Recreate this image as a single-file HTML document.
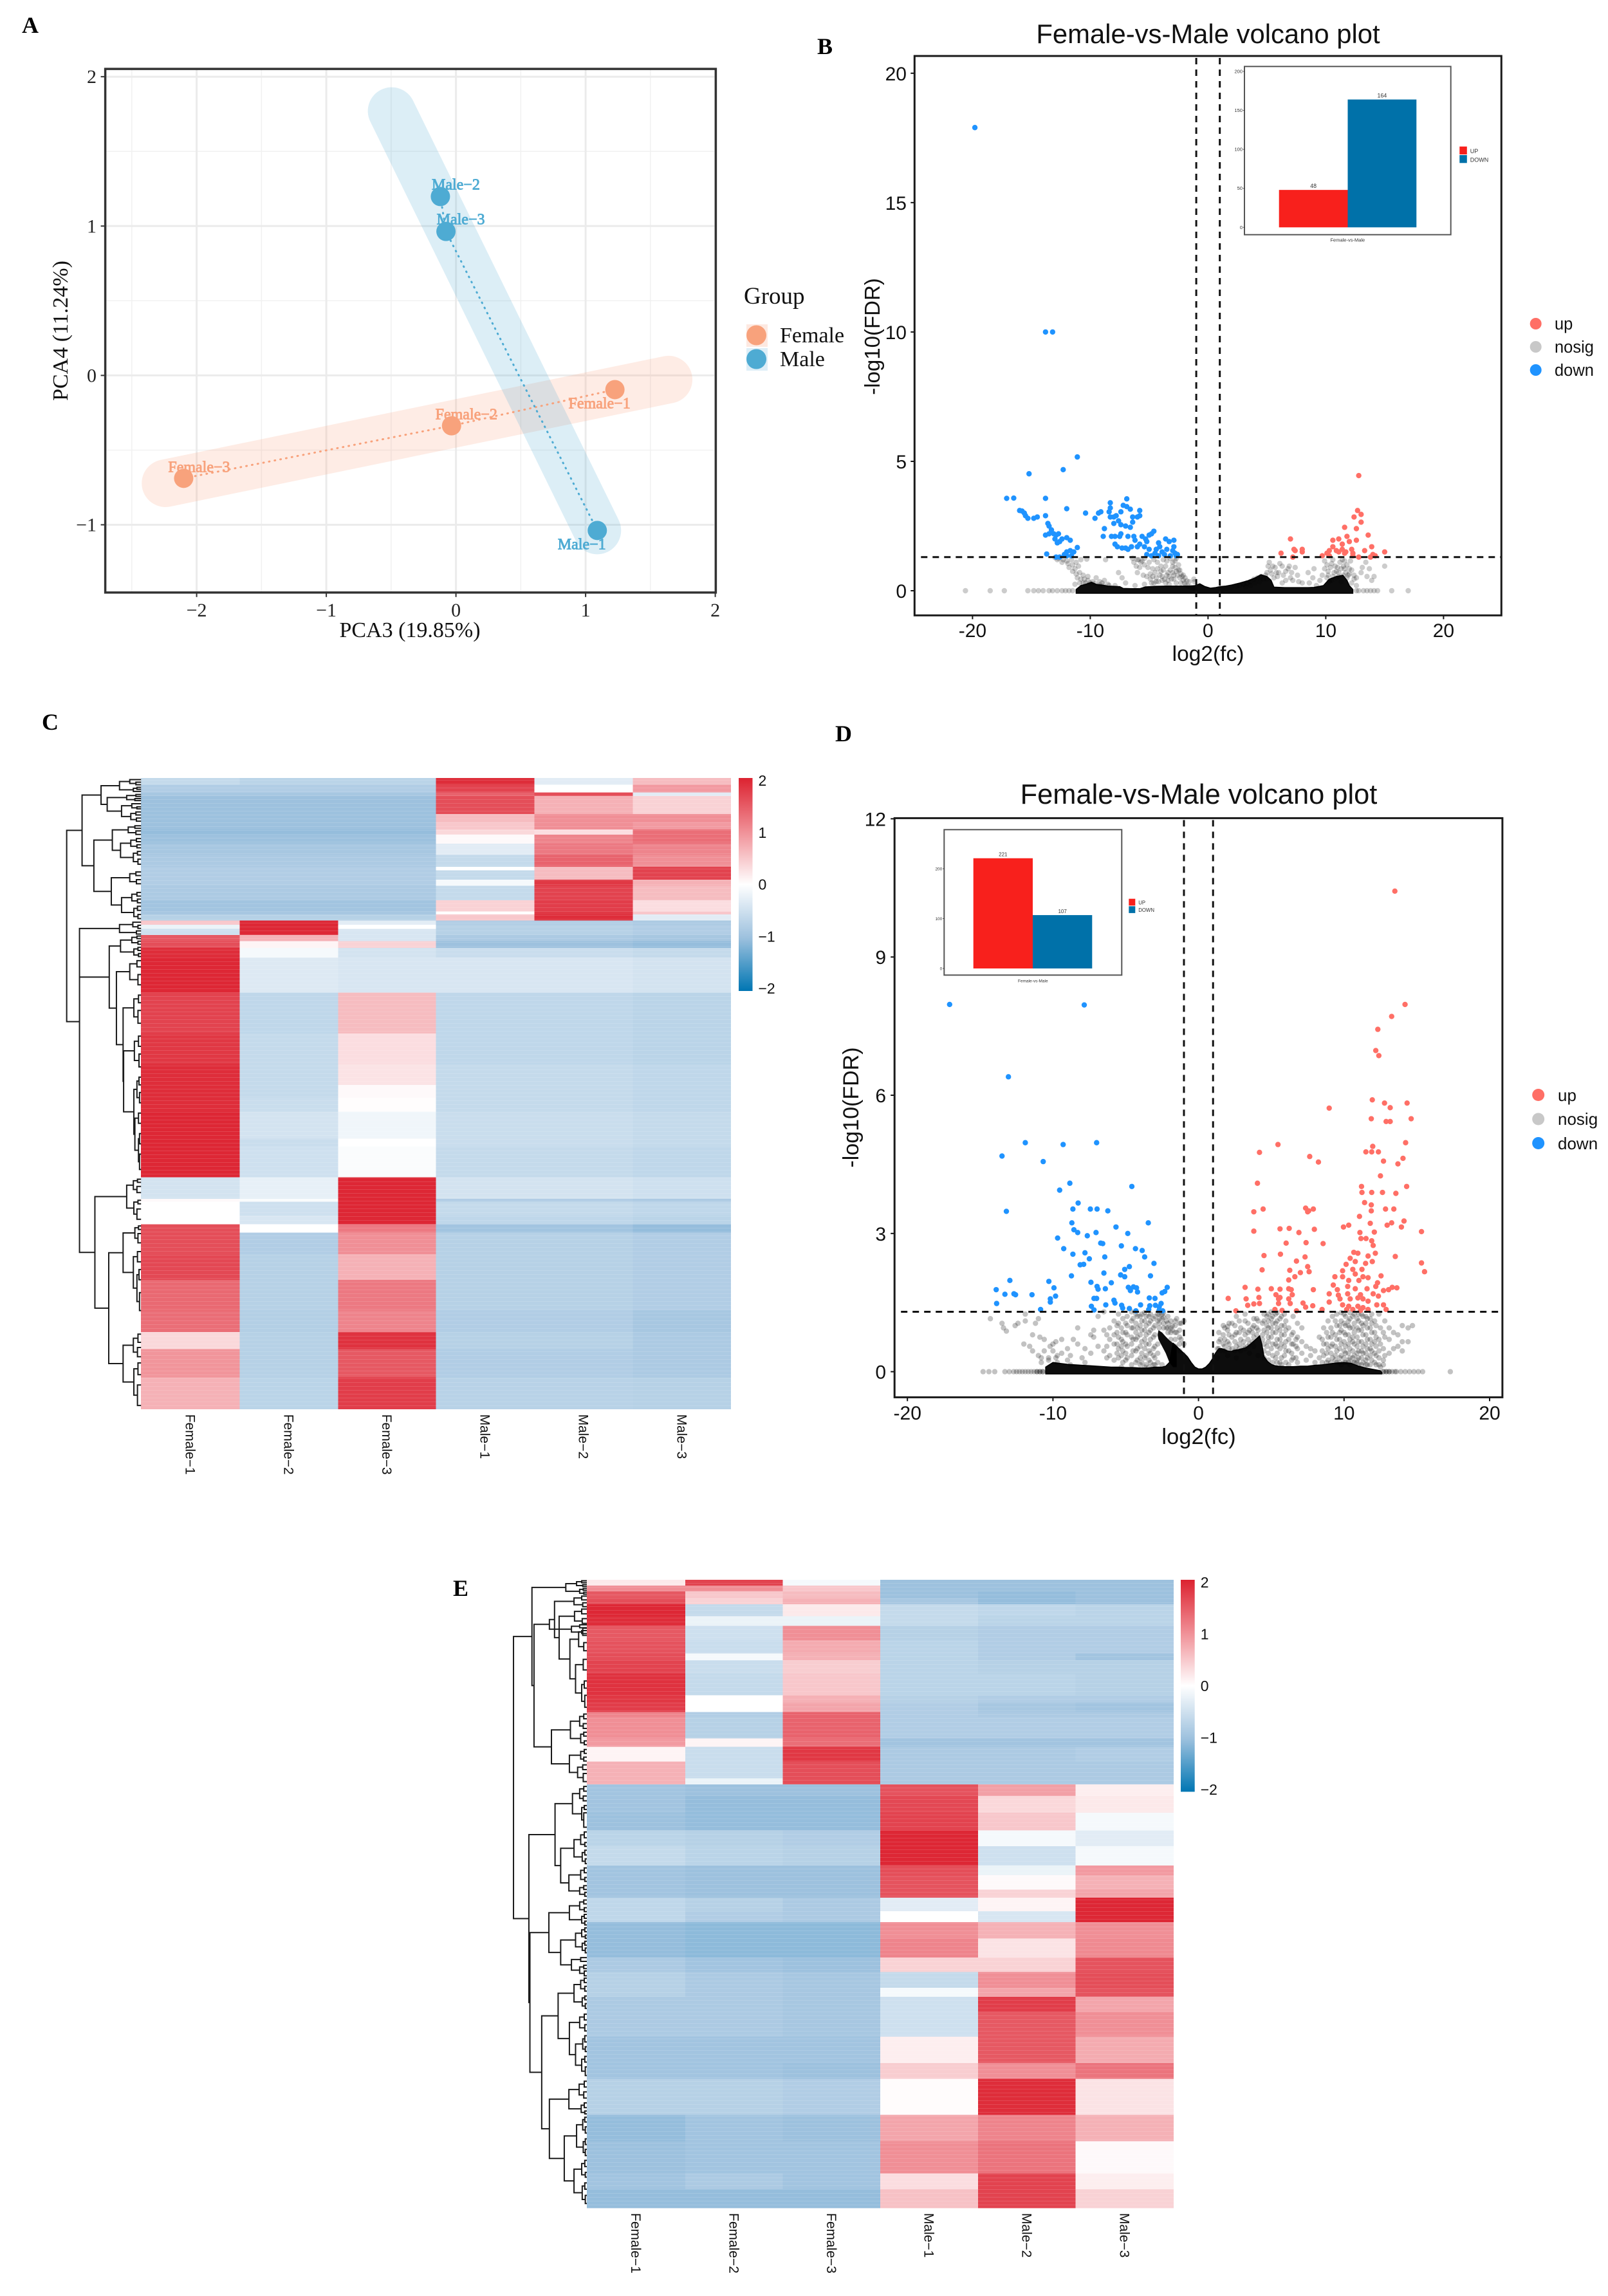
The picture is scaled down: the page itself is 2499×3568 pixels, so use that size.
<!DOCTYPE html>
<html lang="en">
<head>
<meta charset="utf-8">
<title>Female vs Male: PCA, volcano plots and heatmaps</title>
<style>
html,body{margin:0;padding:0;background:#fff;}
svg{display:block;}
.serif{font-family:"Liberation Serif",serif;}
.sans{font-family:"Liberation Sans",sans-serif;}
</style>
</head>
<body>
<svg id="figure" xmlns="http://www.w3.org/2000/svg" width="2499" height="3568" viewBox="0 0 2499 3568">
  <defs>
    <pattern id="stripes" width="10" height="6" patternUnits="userSpaceOnUse">
      <rect x="0" y="0" width="10" height="1" fill="#ffffff" fill-opacity="0.13"></rect>
    </pattern>
    <linearGradient id="cbar" x1="0" y1="0" x2="0" y2="1">
      <stop offset="0" stop-color="#dc2230"></stop>
      <stop offset="0.25" stop-color="#f08f96"></stop>
      <stop offset="0.5" stop-color="#ffffff"></stop>
      <stop offset="0.75" stop-color="#9dc1de"></stop>
      <stop offset="1" stop-color="#0076b3"></stop>
    </linearGradient>
  </defs>
  <rect width="2499" height="3568" fill="#ffffff"></rect>

  <g class="serif" font-weight="bold" font-size="36" fill="#000">
    <text x="34" y="51">A</text>
    <text x="1270" y="84">B</text>
    <text x="65" y="1134">C</text>
    <text x="1298" y="1152">D</text>
    <text x="704" y="2480">E</text>
  </g>

  <g id="panelA">
    <text class="serif" x="637" y="990" font-size="34" text-anchor="middle" fill="#111">PCA3 (19.85%)</text>
    <text class="serif" transform="translate(105,514) rotate(-90)" font-size="34" text-anchor="middle" fill="#111">PCA4 (11.24%)</text>
    <text class="serif" x="1156" y="472" font-size="37" fill="#111">Group</text>
    <rect x="1160" y="504" width="33" height="35" fill="#fde9e1"></rect>
    <circle cx="1175.500" cy="521" r="15.500" fill="#f8a27c"></circle>
    <text class="serif" x="1212" y="532" font-size="34" fill="#111">Female</text>
    <rect x="1160" y="541" width="33" height="35" fill="#ddeef7"></rect>
    <circle cx="1175.500" cy="558" r="15.500" fill="#4eabd3"></circle>
    <text class="serif" x="1212" y="569" font-size="34" fill="#111">Male</text>
  </g>

  <g id="panelB">
    <text class="sans" x="1877.500" y="67" font-size="41.800" text-anchor="middle" fill="#111">Female-vs-Male volcano plot</text>
    <text class="sans" x="1877.500" y="1027" font-size="33.500" text-anchor="middle" fill="#111">log2(fc)</text>
    <text class="sans" transform="translate(1367,523) rotate(-90)" font-size="33" text-anchor="middle" fill="#111">-log10(FDR)</text>
    <circle cx="2386.700" cy="503" r="9" fill="#ff6f66"></circle>
    <text class="sans" x="2416" y="512" font-size="25.500" fill="#111">up</text>
    <circle cx="2386.700" cy="539" r="9" fill="#c8c8c8"></circle>
    <text class="sans" x="2416" y="548" font-size="25.500" fill="#111">nosig</text>
    <circle cx="2386.700" cy="575" r="9" fill="#1f93ff"></circle>
    <text class="sans" x="2416" y="584" font-size="25.500" fill="#111">down</text>
  </g>

  <g id="panelD">
    <text class="sans" x="1863" y="1249" font-size="43.400" text-anchor="middle" fill="#111">Female-vs-Male volcano plot</text>
    <text class="sans" x="1863" y="2244" font-size="34.600" text-anchor="middle" fill="#111">log2(fc)</text>
    <text class="sans" transform="translate(1334,1721) rotate(-90)" font-size="34" text-anchor="middle" fill="#111">-log10(FDR)</text>
    <circle cx="2390.700" cy="1701.500" r="9.500" fill="#ff6f66"></circle>
    <text class="sans" x="2421" y="1711" font-size="26" fill="#111">up</text>
    <circle cx="2390.700" cy="1739" r="9.500" fill="#c8c8c8"></circle>
    <text class="sans" x="2421" y="1748" font-size="26" fill="#111">nosig</text>
    <circle cx="2390.700" cy="1776.500" r="9.500" fill="#1f93ff"></circle>
    <text class="sans" x="2421" y="1786" font-size="26" fill="#111">down</text>
  </g>

  <g id="panelC"></g>
  <g id="panelE"></g>
</svg>

<script>
/* ---------- PCA data ---------- */
const pcaXTicks = [-2, -1, 0, 1, 2];
const pcaYTicks = [-1, 0, 1, 2];
const pcaXMinor = [-2.5, -1.5, -0.5, 0.5, 1.5];
const pcaYMinor = [-0.5, 0.5, 1.5];
const pcaFemaleNames = ['Female\u22121', 'Female\u22122', 'Female\u22123'];
const pcaFemaleX = [1.226, -0.034, -2.10];
const pcaFemaleY = [-0.095, -0.337, -0.689];
const pcaMaleNames = ['Male\u22121', 'Male\u22122', 'Male\u22123'];
const pcaMaleX = [1.09, -0.12, -0.077];
const pcaMaleY = [-1.038, 1.198, 0.964];
const pcaFemaleRibbonX = [-2.24, 1.64];
const pcaFemaleRibbonY = [-0.722, -0.028];
const pcaMaleRibbonX = [-0.496, 1.09];
const pcaMaleRibbonY = [1.77, -1.038];

/* ---------- Volcano B data ---------- */
const bXTicks = [-20, -10, 0, 10, 20];
const bYTicks = [0, 5, 10, 15, 20];
const bDown = [[-19.8,17.9],[-13.8,10],[-13.2,10],[-11.1,5.17],[-12.3,4.68],[-15.2,4.52],[-17.1,3.57],[-16.5,3.58],[-13.8,3.57],[-12,3.17],[-16,3.1],[-15.8,3.08],[-15.6,3],[-15.5,2.9],[-15.3,2.8],[-14.8,2.8],[-14.5,2.85],[-13.8,2.9],[-13.6,2.6],[-13.5,2.5],[-13.3,2.35],[-13.8,2.15],[-13.5,2.2],[-13.1,2.2],[-12.9,2.15],[-12.7,2.2],[-12.4,2],[-13,2],[-12.8,1.85],[-12.6,1.9],[-12,2.05],[-11.7,1.95],[-13.7,1.42],[-12.9,1.3],[-12.6,1.3],[-12.2,1.4],[-12,1.5],[-11.7,1.55],[-11.4,1.5],[-11.1,1.67],[-12,1.35],[-11.6,1.35],[-10.4,3],[-9.6,2.8],[-9.3,3],[-9.1,3.05],[-8.3,3.4],[-8.3,3.2],[-8.4,3.05],[-8.3,2.85],[-8,2.85],[-7.8,2.9],[-7.4,3.05],[-7.2,3.3],[-6.9,3.25],[-6.9,3.55],[-6.6,3.15],[-6.4,2.85],[-6,2.85],[-5.8,2.9],[-5.8,3.1],[-8,2.6],[-7.6,2.7],[-7.4,2.55],[-7,2.5],[-6.6,2.45],[-6.4,2.65],[-8.8,2.4],[-8.9,2.1],[-8.2,2.1],[-7.9,2.1],[-7.5,2.1],[-7.4,2.2],[-6.8,2.1],[-6.3,2.1],[-6.2,1.95],[-5.6,2.1],[-5.3,2],[-5.2,1.9],[-5,2.15],[-4.8,2.2],[-4.6,2.3],[-7.9,1.8],[-7.7,1.7],[-7.3,1.65],[-7,1.65],[-6.8,1.6],[-6.5,1.7],[-6,1.7],[-5.8,1.8],[-5.4,1.7],[-5,1.6],[-5.2,1.4],[-4.8,1.35],[-4.5,1.45],[-4.4,1.6],[-4.1,1.7],[-4.2,1.85],[-3.9,1.5],[-3.7,1.4],[-3.5,1.6],[-3.3,1.9],[-3.6,2],[-3,1.55],[-2.9,1.7],[-2.8,1.45],[-2.6,1.4],[-3.2,1.35],[-2.9,1.95],[-4.2,1.35],[-2.7,1.35]];
const bUp = [[12.8,4.45],[12.7,3.1],[13,2.95],[12.4,2.85],[13,2.65],[11.6,2.45],[12.6,2.4],[13.6,2.15],[11.8,2.1],[11.1,2],[10.6,1.95],[12.6,1.95],[12,1.9],[11.4,1.8],[7,2],[6.2,1.45],[7.3,1.6],[7.4,1.55],[8,1.6],[8,1.5],[7.2,1.3],[9.7,1.35],[10.1,1.45],[10.3,1.55],[10.6,1.7],[10.9,1.55],[11.1,1.5],[11.4,1.6],[11.6,1.45],[12.2,1.6],[12.3,1.45],[12.8,1.3],[13.3,1.55],[13.9,1.7],[14,1.4],[13.8,1.3],[14.2,1.35],[15,1.5],[10.3,1.35],[11.7,1.5],[12.3,1.35]];
const bNosig = [[-13,1.28],[-12.7,1.25],[-12.3,1.2],[-12,1.15],[-11.6,1.2],[-11.2,1.1],[-11.5,1],[-11,0.95],[-10.8,1.2],[-10.3,1.22],[-11.3,0.85],[-10.9,0.7],[-10.6,0.6],[-10.2,0.4],[-10.5,0.45],[-9.8,0.35],[-9.5,0.5],[-9,0.3],[-8.8,0.4],[-8.5,0.25],[-9.2,0.35],[-10,0.3],[-10.4,0.3],[-9.6,0.28],[-9.2,0.22],[-8.9,0.2],[-8.4,0.2],[-7.9,0.2],[-7.6,0.7],[-8.7,1.2],[-7.3,0.5],[-7,0.3],
[-12.8,1.2],[-12.4,1.1],[-11.9,1.05],[-11.8,0.9],[-11.5,0.75],[-11.2,0.65],[-11.1,0.5],[-10.8,0.45],[-10.6,0.3],[-10.9,0.3],[-11.3,0.25],[-10.2,0.55],
[-6.4,1.25],[-6,1.2],[-5.6,1.15],[-5.4,1],[-5.8,0.9],[-6,0.7],[-5.5,0.6],[-5.2,0.55],[-4.9,0.65],[-4.7,0.85],[-5,1.1],[-4.6,1.2],[-4.3,1.1],[-4,0.95],[-3.8,1.2],[-3.5,1.15],[-3.2,1.25],[-3,1.1],[-2.7,1.25],[-4.5,0.7],[-4.1,0.6],[-3.8,0.8],[-3.5,0.6],[-3.2,0.8],[-3,0.7],[-2.8,0.9],[-2.5,1],[-2.4,0.8],[-2.6,0.6],[-2.2,0.55],[-2.9,0.45],[-3.4,0.4],[-3.9,0.4],[-4.4,0.35],[-2.1,0.4],[-2,0.3],[-2.3,0.3],[-1.9,0.2],[-1.7,0.18],[-1.5,0.14],[-1.3,0.1],[-1.1,0.08],[-2.7,0.3],[-3.3,0.25],[-4.8,0.3],[-5.4,0.25],[-6.2,0.2],
[-6.3,1.1],[-6.1,0.95],[-5.9,1.2],[-5.7,1.1],[-5.4,1.25],[-5.1,0.9],[-4.9,0.45],[-4.7,0.55],[-4.4,0.5],[-4.3,0.85],[-4.2,0.35],[-4,0.75],[-3.9,0.55],[-3.7,0.45],[-3.6,0.95],[-3.4,0.7],[-3.3,0.55],[-3.1,0.45],[-3,0.95],[-2.9,0.6],[-2.8,1.15],[-2.7,0.75],[-2.5,0.8],[-2.4,0.5],[-2.3,0.65],[-2.1,0.6],[-1.95,0.5],[-1.8,0.38],[-1.6,0.35],[-1.2,0.45],[-1.15,0.35],[-3.6,0.3],[-4.6,0.3],
[1.2,0.05],[1.6,0.08],[2,0.12],[2.4,0.18],[2.7,0.2],[3,0.25],[3.3,0.3],[3.6,0.35],[3.9,0.45],[4.2,0.5],[4.5,0.55],[4.7,0.45],[4.4,0.35],[4,0.3],[3.6,0.2],[3.2,0.15],[4.9,0.6],[5,0.45],[5.3,0.8],[5.2,1.1],[5.7,0.9],[6,0.7],[5.6,0.5],[6.3,0.95],[6.4,0.6],[6.8,0.85],[6.6,0.4],[6.3,0.3],[7,0.5],[7.4,0.9],[7.6,0.6],[8,0.3],[8.5,0.7],[8.6,0.3],[9,0.85],[8.9,0.5],[9.5,0.4],[9.2,0.2],[9.7,0.6],[9.9,1.15],[10.1,1],[10.2,0.75],[10.1,0.5],[10.4,0.9],[10.6,1.2],[10.7,0.7],[10.5,0.4],[10.9,0.5],[11,0.9],[11.2,1.1],[11.1,0.7],[11.3,0.35],[11.5,0.6],[11.6,0.85],[11.8,1],[11.9,0.6],[12.2,0.8],[12.4,0.6],[12.6,0.5],[12.2,0.3],[12.6,0.2],[13,0.7],[13.1,0.9],[13.4,1.1],[13.7,0.85],[13.5,0.55],[14.1,0.55],[15,0.95],[13.9,0.4],
[5,0.7],[5.1,0.95],[5.4,0.65],[5.5,0.95],[5.8,0.7],[5.9,0.55],[6.1,1.05],[6.6,0.75],[6.9,0.95],[7.1,0.7],[7.2,0.4],[7.7,0.35],[9.9,0.85],[10.2,0.6],[10.3,0.35],[10.5,1.05],[10.6,0.55],[10.8,0.95],[10.9,0.75],[11.1,0.55],[11.3,0.85],[11.4,1.2],[11.5,0.95],[11.7,0.7],[11.8,0.5],[12,0.85],[12,0.65],[12.1,1.15],[12.4,0.45],[11.6,1.15],
[-20.6,0],[-18.5,0],[-17.3,0],[-15.3,0],[-14.8,0],[-14.4,0],[-14,0],[-13.5,0],[-13.2,0],[-12.8,0],[-12.4,0],[-12.1,0],[-11.8,0],[-11.5,0],[13.2,0],[13.5,0],[13.8,0],[14.1,0],[14.4,0],[15.6,0],[17,0],[12.6,0],[12.8,0]];
/* Density outline of the overplotted nosig points near the baseline */
const bDenseX = [-11.2,-10.8,-10.4,-9.9,-9.5,-9,-8.5,-8,-7.5,-7.2,-6.5,-5.8,-5.3,-4.5,-3.5,-2.5,-1.5,-1.1,-0.7,-0.3,0.2,0.6,1,1.5,2,2.7,3.4,4,4.5,5,5.35,5.6,6.5,7.5,8.5,9,9.8,10.3,10.9,11.45,11.8,12,12.3];
const bDenseTop = [0.05,0.2,0.25,0.33,0.25,0.22,0.18,0.17,0.16,0.09,0.08,0.08,0.15,0.17,0.18,0.18,0.18,0.2,0.27,0.17,0.1,0.12,0.16,0.18,0.22,0.3,0.39,0.5,0.62,0.55,0.41,0.14,0.12,0.12,0.12,0.13,0.2,0.45,0.55,0.6,0.4,0.2,0.05];
const bInsetTicks = [0, 50, 100, 150, 200];
const bInsetValues = [48, 164];

/* ---------- Volcano D data ---------- */
const dXTicks = [-20, -10, 0, 10, 20];
const dYTicks = [0, 3, 6, 9, 12];
const dDown = [[-17.1,7.97],[-7.85,7.96],[-13.06,6.4],[-11.9,4.97],[-9.3,4.93],[-7,4.97],[-13.5,4.68],[-10.67,4.56],[-8.84,4.09],[-9.54,3.94],[-4.58,4.02],[-13.2,3.48],[-8.27,3.66],[-8.63,3.53],[-7.43,3.53],[-6.97,3.53],[-6.23,3.49],[-8.7,3.23],[-3.45,3.23],[-5.67,3.14],[-8.56,3.08],[-8.3,3.02],[-7.04,3.02],[-4.86,3],[-7.64,2.95],[-9.68,2.9],[-6.72,2.79],[-6.58,2.78],[-9.26,2.67],[-5.3,2.73],[-4.33,2.67],[-3.87,2.63],[-3.7,2.49],[-8.63,2.55],[-7.8,2.58],[-6.44,2.49],[-7.5,2.45],[-7.89,2.33],[-8.13,2.32],[-3.06,2.35],[-4.75,2.28],[-5.07,2.22],[-6.5,2.14],[-5.35,2.1],[-5.07,2.06],[-3.3,2.08],[-8.73,2.08],[-5.99,1.93],[-7.39,1.94],[-6.97,1.85],[-6.4,1.8],[-6.9,1.79],[-4.82,1.83],[-4.68,1.76],[-4.47,1.84],[-4.26,1.82],[-4.19,1.73],[-2.15,1.83],[-2.32,1.74],[-2.5,1.71],[-12.96,1.98],[-10.28,1.96],[-9.93,1.82],[-13.9,1.78],[-13.3,1.68],[-12.68,1.69],[-12.57,1.67],[-11.44,1.67],[-9.82,1.64],[-10.18,1.58],[-10.18,1.51],[-13.87,1.48],[-10.85,1.35],[-7.18,1.59],[-7,1.59],[-5.81,1.55],[-5.74,1.49],[-6.37,1.45],[-7.36,1.42],[-7.18,1.34],[-5.28,1.44],[-5.21,1.38],[-4.75,1.37],[-3.98,1.45],[-3.38,1.6],[-2.99,1.59],[-3.35,1.43],[-2.96,1.44],[-2.57,1.48],[-2.7,1.41],[-3.42,1.35],[-2.71,1.33],[-2.46,1.32],[-4.3,1.32]];
const dUp = [[13.49,10.43],[14.19,7.97],[13.27,7.71],[12.32,7.43],[12.18,6.97],[12.39,6.86],[11.94,5.9],[12.78,5.83],[13.17,5.73],[14.33,5.83],[8.98,5.72],[11.87,5.49],[14.61,5.49],[12.89,5.43],[13.17,5.43],[14.23,4.97],[5.46,4.93],[11.97,4.89],[11.5,4.77],[11.9,4.77],[12.36,4.77],[4.19,4.76],[7.64,4.67],[14.05,4.63],[12.71,4.57],[13.7,4.51],[8.24,4.55],[12.5,4.25],[4.05,4.09],[14.3,4.02],[11.2,4.02],[11.23,3.89],[11.9,3.89],[12.64,3.89],[13.56,3.87],[11.41,3.67],[11.87,3.62],[11.87,3.49],[12.85,3.53],[13.42,3.53],[7.36,3.55],[7.57,3.49],[7.89,3.53],[7.5,3.47],[4.44,3.53],[3.8,3.47],[11.06,3.37],[11.8,3.22],[13.27,3.23],[14.12,3.27],[12.96,3.18],[13.94,3.14],[9.96,3.14],[10.32,3.18],[5.6,3.1],[6.23,3.11],[7.96,3.09],[3.8,3.05],[15.32,3.04],[6.9,3.02],[12.08,3.03],[11.09,3.02],[11.16,2.89],[11.51,2.89],[11.9,2.84],[7.39,2.8],[8.56,2.78],[6.02,2.79],[12,2.74],[12.15,2.57],[5.63,2.55],[4.5,2.52],[10.67,2.59],[10.95,2.57],[13.52,2.5],[7.32,2.49],[10.42,2.46],[11.65,2.51],[10.14,2.33],[10.77,2.39],[11.48,2.35],[11.94,2.39],[6.73,2.4],[15.32,2.36],[7.5,2.28],[7.6,2.17],[4.37,2.21],[15.53,2.17],[6.27,2.2],[9.9,2.19],[11.23,2.22],[10.6,2.22],[7,2.15],[6.62,2.06],[9.37,2.06],[9.9,2.06],[10.77,2.12],[11.3,2.06],[12.54,2.08],[6.2,1.99],[10.32,1.98],[11.02,1.98],[11.65,2.04],[12.3,1.93],[3.2,1.83],[9.26,1.88],[12.18,1.85],[13.31,1.83],[13.63,1.82],[12.71,1.76],[13.06,1.78],[4.08,1.79],[5,1.8],[5.6,1.79],[6.2,1.8],[6.37,1.78],[7.89,1.78],[9.54,1.78],[10.25,1.85],[10.77,1.8],[11.58,1.8],[8.98,1.69],[9.61,1.66],[10.25,1.69],[11.13,1.67],[12,1.69],[12.36,1.64],[2.04,1.59],[3.27,1.58],[4.15,1.61],[5.32,1.67],[5.5,1.58],[5.6,1.61],[6.2,1.58],[6.44,1.67],[9.72,1.58],[10.42,1.58],[10.95,1.6],[11.3,1.58],[11.65,1.53],[12.25,1.45],[3.8,1.47],[3.38,1.44],[4.19,1.48],[5.5,1.48],[6.3,1.48],[7.18,1.49],[7.36,1.4],[7.85,1.43],[8.98,1.51],[9.9,1.45],[10.32,1.42],[10.6,1.35],[10.95,1.42],[11.3,1.39],[12.71,1.45],[12.89,1.35],[2.57,1.32],[5.25,1.35],[5.74,1.33],[6.73,1.32],[8.49,1.35],[10.18,1.35],[11.13,1.33],[11.65,1.35]];
const dNosigStrips = [[-14.3,1.15],[-13.5,1.05],[-13.4,0.95],[-13.2,0.88],[-12.6,1],[-12.4,1.05],[-12,0.6],[-11.9,1.25,1.1],[-11.6,0.55],[-11.4,0.45,0.8],[-11.2,1.05],[-11,1.15,0.35],[-10.9,0.75],[-10.6,0.7,0.45],[-10.2,0.55],[-10,0.45,0.6],[-9.8,0.3,0.65],[-9.4,0.4,0.7],[-9,0.25,0.5],[-8.6,0.7],[-8.3,0.95,0.6],[-8,0.3],[-7.4,0.4,0.8],[-7.2,0.75,0.9],[-6.9,0.55,1.2],[-6.5,0.45,1.3,0.9],[-6.1,0.35,0.7,0.95],[-5.8,0.25,0.6,0.8,1.1],[-5.5,0.3,0.5,0.75,1.05,1.25],[-5.2,0.2,0.45,0.65,0.85,1.15],[-4.9,0.3,0.55,0.8,1,1.2],[-4.6,0.15,0.35,0.6,0.75,0.95,1.1,1.3],[-4.3,0.2,0.45,0.7,0.85,1.05,1.25],[-4,0.15,0.3,0.55,0.8,1,1.2],[-3.7,0.1,0.3,0.5,0.7,0.9,1.1,1.28],[-3.4,0.1,0.25,0.45,0.6,0.85,1.05,1.2],[-3.1,0.15,0.35,0.5,0.75,0.95,1.15],[-2.8,0.2,0.4,0.6,1.1,1.25],[-2.5,0.15,1.15,1.25],[-2.2,1.1,0.95],[-1.8,1,0.9],[-1.5,0.85,1.15],[-1.2,0.7,1.05],[-1,1.1,0.6],
[-4.5,0.45,0.7,0.95,1.15],[-4.2,0.25,0.5,0.75,0.95,1.2],[-3.9,0.2,0.4,0.65,0.9,1.1,1.25],[-3.6,0.15,0.35,0.6,0.8,1,1.2],[-3.3,0.2,0.4,0.7,0.9,1.1,1.25],[-3,0.15,0.3,0.55,0.8,1,1.2],[-2.7,0.95,1.05,1.15,1.25],[-2.4,0.95,1.05,1.18,1.28],[-2.1,0.85,0.95,1.05,1.2],[-1.9,0.7,0.85,0.95,1.1],[-1.6,0.55,0.7,0.85,1,1.1],[-1.3,0.45,0.6,0.75,0.9,1.05],[-5.3,0.1,0.35,0.55,0.7,0.95],[-5,0.25,0.4,0.6,0.85,1.05],[-5.6,0.4,0.6,0.85,1],[-6.3,0.3,0.55,0.8],[-7.8,0.2,0.5],[-8.8,0.15,0.35],[-9.7,0.2,0.35],[-10.3,0.25,0.3],[-10.8,0.2,0.3],
[1.3,0.3,0.5],[1.5,0.45,0.7],[1.7,0.6,0.8,1],[2,0.35,0.65,0.9,0.98],[2.3,0.5,0.75,1.05],[2.6,0.3,0.55,0.85,1.2],[2.9,0.45,0.7,0.95],[3.2,0.5,0.8,1.1,1.25],[3.5,0.4,0.6,0.9],[3.8,0.55,0.75,1,1.15],[4.1,0.35,0.9,1.1],[4.4,0.8,1.05,0.7],[4.7,0.55,0.85,1.2,1],[5,0.5,0.75,0.95,1.15,1.3],[5.3,0.3,0.6,0.85,1.05,1.25],[5.6,0.2,0.5,0.7,0.9,1.15],[5.9,0.35,0.55,0.8,1,1.25],[6.2,0.15,0.45,0.7,0.95],[6.5,0.3,0.6,0.85,1.2],[6.8,0.2,0.5,0.75,1.05],[7.1,0.4,0.65,0.95],[7.4,0.25,0.55],[7.7,0.35,0.5],[8,0.2,0.45],[8.3,0.3,0.75],[8.6,0.35,0.6,0.95],[8.9,0.25,0.5,0.75,1.1],[9.2,0.3,0.6,0.85,1.2],[9.5,0.2,0.45,0.7,1,1.25],[9.8,0.15,0.35,0.6,0.9,1.1,1.28],[10.1,0.2,0.4,0.55,0.8,1,1.2],[10.4,0.15,0.3,0.5,0.7,0.95,1.15,1.28],[10.7,0.2,0.35,0.6,0.85,1.05,1.25],[11,0.15,0.3,0.45,0.65,0.9,1.1,1.25],[11.3,0.2,0.4,0.55,0.8,1,1.2],[11.6,0.15,0.3,0.5,0.7,0.95,1.15],[11.9,0.25,0.45,0.6,0.85,1.05,1.25],[12.2,0.15,0.35,0.55,0.75,1],[12.5,0.1,0.6,0.95],[12.8,0.35,0.75,1.1],[13.1,0.4,0.7,0.95],[13.4,0.5,0.85],[13.7,0.55,0.8],[14,0.65,0.45,1],[14.4,0.65,0.95],[14.7,1],
[1.4,0.5,0.65,0.85],[1.8,0.45,0.55,0.7,0.95],[2.1,0.5,0.6,0.8,1.05],[2.5,0.45,0.65,0.8,1],[2.8,0.5,0.6,0.85,1.1],[3.1,0.55,0.65,0.9],[3.4,0.55,0.7,0.85,1.05],[3.7,0.65,0.85,0.95],[4,0.8,0.95,1.15],[4.5,0.3,0.45,0.6,0.9,1.1,1.25],[4.8,0.25,0.4,0.65,0.75,0.95,1.1,1.25],[5.1,0.2,0.35,0.6,0.85,1.05,1.2],[5.4,0.2,0.4,0.55,0.7,0.95,1.1,1.28],[5.7,0.15,0.3,0.6,0.8,1,1.2],[6,0.2,0.45,0.65,0.9,1.1],[6.4,0.25,0.4,0.6,0.8],[6.7,0.3,0.55,0.7],
[8.5,0.2,0.45,0.7],[8.8,0.2,0.4,0.6,0.85],[9.1,0.2,0.4,0.55,0.75,0.95],[9.4,0.25,0.35,0.55,0.8,1.1],[9.7,0.2,0.3,0.5,0.7,0.85,1],[10,0.2,0.3,0.45,0.65,0.85,1.05,1.25],[10.3,0.2,0.25,0.4,0.6,0.8,1,1.1],[10.6,0.2,0.3,0.45,0.65,0.75,0.95,1.2],[10.9,0.2,0.25,0.4,0.55,0.75,0.95,1.15],[11.2,0.15,0.3,0.45,0.65,0.9,1.05,1.25],[11.5,0.15,0.25,0.4,0.6,0.8,1.05,1.2],[11.8,0.15,0.35,0.5,0.7,0.95,1.15],[12.1,0.2,0.4,0.65,0.85,1.1],[12.4,0.15,0.3,0.45,0.7,1.25],[12.7,0.15,0.25,0.5,0.85],
[-14.8,0],[-14.4,0],[-14,0],[-13.3,0],[-13,0],[-12.7,0],[-12.5,0],[-12.3,0],[-12.1,0],[-11.9,0],[-11.7,0],[-11.5,0],[-11.3,0],[-11.1,0,0],[-10.9,0,0],[-10.7,0,0],[12.7,0,0],[12.9,0,0],[13.1,0,0],[13.3,0],[13.5,0],[13.6,0],[13.9,0],[14.2,0],[14.5,0],[14.8,0],[15.1,0],[15.4,0],[17.3,0]];
/* Density outlines of the overplotted nosig points */
const dDenseX = [-10.5,-10,-9.5,-9,-8.5,-8,-7.5,-7,-6.5,-6,-5.5,-5,-4.5,-4,-3.5,-3,-2.5,-2.25,-2,-1.75,-1.5,-1.25,-1,-0.75,-0.5,-0.25,0,0.25,0.5,0.75,1,1.2,1.4,1.6,1.8,2,2.25,2.5,2.75,3,3.25,3.5,3.75,4,4.2,4.35,4.5,4.75,5,5.25,5.5,6,6.5,7,7.5,8,8.5,9,9.5,10,10.5,11,11.5,12,12.5,12.6];
const dDenseTop = [0.1,0.2,0.18,0.16,0.15,0.14,0.13,0.12,0.11,0.1,0.1,0.09,0.09,0.08,0.08,0.1,0.1,0.12,0.2,0.62,0.55,0.47,0.4,0.32,0.2,0.1,0.06,0.06,0.1,0.18,0.3,0.42,0.5,0.5,0.48,0.45,0.44,0.47,0.48,0.5,0.52,0.58,0.65,0.72,0.78,0.6,0.33,0.22,0.16,0.13,0.12,0.11,0.11,0.12,0.12,0.14,0.15,0.17,0.19,0.2,0.18,0.12,0.08,0.05,0.02,-0.02];
const dArmX = [-2.8,-2.75,-2.5,-2.25,-2,-1.75,-1.5];
const dArmTop = [0.82,0.9,0.85,0.76,0.68,0.62,0.55];
const dArmBottom = [0.78,0.7,0.55,0.4,0.2,0.1,0.1];
const dInsetTicks = [0, 100, 200];
const dInsetValues = [221, 107];

/* ---------- Heatmap C data (blocks of rows, z-scores per sample) ---------- */
const heatColumns = ['Female\u22121', 'Female\u22122', 'Female\u22123', 'Male\u22121', 'Male\u22122', 'Male\u22123'];
const heatLegendTicks = [2, 1, 0, -1, -2];
const cBlockRows = [13,15,7,35,16,14,10,18,22,23,7,18,12,28,22,6,12,8,8,12,12,13,19,68,80,60,40,25,27,53,15,60,42,6,27,17,16,42,50,60,42,33,55,62];
const cFemale1 = [-0.6,-0.8,-0.9,-1,-1,-1,-1.05,-1,-0.9,-0.85,-0.8,-0.8,-0.8,-0.85,-0.95,-0.9,-0.75,0.5,-0.2,-0.5,1.5,1.6,1.9,1.95,1.7,1.8,1.9,1.9,1.9,1.95,1.95,1.95,-0.45,0.05,0,0,1.6,1.6,1.65,1.35,1.3,0.35,0.95,0.7];
const cFemale2 = [-0.7,-0.8,-0.9,-1,-1,-1,-1.05,-1,-0.9,-0.85,-0.8,-0.8,-0.8,-0.85,-0.95,-0.9,-0.75,1.95,1.95,1.95,0.7,0.1,-0.1,-0.35,-0.65,-0.6,-0.6,-0.6,-0.55,-0.45,-0.55,-0.5,-0.25,-0.05,-0.5,-0.4,0,-0.8,-0.75,-0.75,-0.78,-0.75,-0.75,-0.7];
const cFemale3 = [-0.7,-0.8,-0.9,-1,-1,-1,-1.05,-1,-0.9,-0.85,-0.8,-0.8,-0.8,-0.85,-0.95,-0.9,-0.75,-0.3,0,-0.4,-0.4,0.4,-0.45,-0.4,0.6,0.3,0.25,0.05,0.02,-0.15,0,-0.05,1.95,1.95,1.95,1.95,1.2,1,0.7,1.2,1.1,1.85,1.5,1.75];
const cMale1 = [1.9,1.7,1.4,1.6,0.6,0.5,0.35,0.05,-0.3,-0.6,0,-0.6,-0.1,-0.6,0.4,0,0.5,-0.8,-0.75,-0.75,-0.85,-1,-0.55,-0.4,-0.65,-0.65,-0.6,-0.6,-0.6,-0.55,-0.55,-0.6,-0.45,-0.8,-0.6,-0.65,-0.95,-0.75,-0.75,-0.75,-0.8,-0.75,-0.8,-0.72];
const cMale2 = [-0.3,0,1.6,0.7,1,1,0.3,1.1,1.2,1.4,0.6,0.6,1.8,1.7,1.75,1.8,1.9,-0.8,-0.75,-0.75,-0.85,-1,-0.55,-0.4,-0.65,-0.65,-0.6,-0.6,-0.6,-0.55,-0.55,-0.6,-0.45,-0.8,-0.6,-0.65,-0.95,-0.75,-0.75,-0.75,-0.8,-0.75,-0.8,-0.72];
const cMale3 = [0.6,0.9,-0.3,0.4,1,0.9,1.3,1.3,1.1,1,1.7,1.7,0.7,0.6,0.3,0.5,-0.3,-0.85,-0.8,-0.8,-0.9,-1.05,-0.6,-0.45,-0.7,-0.7,-0.65,-0.65,-0.65,-0.6,-0.6,-0.65,-0.5,-0.85,-0.65,-0.7,-1.05,-0.8,-0.8,-0.8,-0.9,-0.85,-0.85,-0.75];
/* Dendrogram: [mergeHeight, childA, childB]; a bare number is a leaf row index (offset by origin). */
const cTreeOrigin = 162;
const cTree = [145,
  [115,
    [78,
      [42,[22,165,[10,170,175]],[15,[8,180,184],188]],
      [66,[28,[10,194,198],[12,202,206]],[38,[18,212,[8,218,222]],[20,[10,228,234],[9,240,246]]]]
    ],
    [92,
      [56,[25,[12,255,260],[10,265,272]],[40,[20,[9,280,286],[8,292,298]],[15,[7,305,312],[6,320,330]]]],
      [58,[22,[10,345,352],[9,360,368]],[38,[18,[8,385,392],[7,398,405]],[14,[7,412,420],[6,428,436]]]]
    ]
  ],
  [120,
    [42,[16,443,[6,449,455]],[9,460,466]],
    [120,
      [62,
        [40,[18,[8,470,475],[6,480,486]],[14,[6,492,498],[5,504,510]]],
        [48,
          [22,[8,518,530],[6,545,565]],
          [35,
            [14,[5,585,600],[6,615,640]],
            [34,
              [13,[5,665,685],[4,700,725]],
              [14,[8,[4,745,760],[3,775,795]],[12,[5,815,835],[5,[3,855,875],[3,895,925]]]]
            ]
          ]
        ]
      ],
      [90,
        [28,[15,[7,944,950],[8,958,970]],[14,[6,985,992],[8,1002,1022]]],
        [63,
          [35,[12,[5,1035,1042],[6,1050,1068]],[15,[7,1085,1105],[8,[4,1120,1140],[3,1165,1200]]]],
          [35,[15,[6,1246,1262],[7,1272,1290]],[14,[6,1302,1325],[7,1345,1385]]]
        ]
      ]
    ]
  ]
];

/* ---------- Heatmap E data ---------- */
const eBlockRows = [12,12,14,13,25,20,30,28,14,28,45,15,20,10,45,17,31,35,13,24,35,37,33,40,20,30,17,28,23,34,40,30,33,19,31,52,55,33,75,55,67,33,39];
const eFemale1 = [0.2,1,1.5,1.6,1.95,1.9,1.5,1.55,1.6,1.7,1.85,1.8,1.75,1.1,1,0.9,0.1,0.7,0.7,-0.95,-0.95,-1,-0.7,-0.6,-0.95,-0.95,-0.95,-0.65,-0.65,-1.05,-1.05,-0.85,-0.75,-0.75,-0.85,-0.85,-0.95,-0.95,-0.75,-1.05,-1,-0.95,-1.05];
const eFemale2 = [1.7,1,0.5,0.4,-0.6,-0.2,-0.5,-0.55,-0.1,-0.55,-0.6,0,0,-0.8,-0.75,0.1,-0.55,-0.55,-0.2,-1,-1.05,-1.05,-0.75,-0.7,-1,-1,-1,-0.75,-0.8,-1.1,-1.1,-0.95,-0.85,-0.85,-0.85,-0.85,-0.95,-0.95,-0.75,-0.95,-0.95,-0.85,-1.05];
const eFemale3 = [-0.1,0.5,0.6,0.7,0.2,-0.2,1,0.75,0.7,0.45,0.5,0.7,0.8,1.4,1.4,1.3,1.8,1.6,1.6,-1,-1.05,-1.05,-0.8,-0.75,-1,-1,-1,-0.85,-0.85,-1.1,-1.1,-1,-0.9,-0.9,-0.9,-0.9,-0.95,-1,-0.8,-1,-0.95,-0.95,-1.05];
const eMale1 = [-1,-1,-1,-0.9,-0.6,-0.6,-0.75,-0.7,-0.7,-0.7,-0.7,-0.75,-0.8,-0.8,-0.8,-0.95,-0.85,-0.85,-0.85,1.55,1.65,1.7,1.95,1.95,1.6,1.55,1.55,-0.3,0,1,1.1,0.4,-0.6,-0.1,-0.5,-0.5,0.15,0.45,0.03,0.8,1,0.3,0.55];
const eMale2 = [-1,-1,-1.05,-1.05,-0.65,-0.7,-0.8,-0.8,-0.8,-0.75,-0.7,-0.8,-0.9,-0.85,-0.8,-0.95,-0.85,-0.85,-0.85,0.85,0.35,0.5,-0.1,-0.5,-0.2,0.05,0.4,0.1,-0.4,0.7,0.25,0.4,1,0.8,1.75,1.5,1.5,1,1.9,1.1,1.25,1.7,1.7];
const eMale3 = [-1,-1,-1,-1,-0.7,-0.7,-0.8,-0.8,-0.95,-0.75,-0.75,-0.8,-0.95,-0.85,-0.8,-0.95,-0.8,-0.85,-0.85,0.15,0.2,-0.1,-0.3,-0.1,0.9,0.7,0.8,1.95,1.95,1,1.05,1.55,1.6,1.55,0.8,1,0.75,1.25,0.25,0.7,0.05,0.15,0.4];
const eTreeOrigin = 74;
const eTree = [143,
  [107,
    [41,[20,[10,76,80],[8,84,88]],[14,[7,92,96],[6,100,104]]],
    [103,
      [73,
        [63,[25,[10,108,116],[8,122,130]],[54,[24,[10,135,145],[9,155,165]],[33,[16,[8,175,190],[6,205,222]],[22,[7,240,262],[10,[5,285,300],[4,315,340]]]]]],
        [30,[14,168,174],[10,180,186]]
      ],
      [69,[32,[14,[6,354,364],[7,374,384]],[12,[6,392,400],[5,410,418]]],[34,[12,[5,428,436],[6,444,452]],[18,[8,460,470],[7,478,495]]]]
    ]
  ],
  [113,
    [62,
      [28,[14,[6,505,515],[7,525,535]],[10,[5,545,553],[6,560,590]]],
      [51,[25,[12,[5,600,612],[4,622,630]],[9,[4,638,648],[3,656,666]]],[35,[12,[5,675,685],[4,695,703]],[14,[6,712,720],[4,726,734]]]]
    ],
    [111,
      [74,
        [34,[14,[6,742,750],[5,758,766]],[10,[5,772,780],[4,786,794]]],
        [51,[22,[10,[4,800,808],[3,815,822]],[9,[4,828,836],[3,842,852]]],[30,[12,862,870],[14,[6,878,885],[5,890,900]]]]
      ],
      [88,
        [56,[25,[12,[5,905,914],[4,922,932]],[9,[4,942,950],[3,958,968]]],[34,[14,[5,980,992],[4,1002,1015]],[22,[8,[4,1025,1038],[3,1048,1058]],[10,[4,1068,1080],[3,1090,1108]]]]],
        [73,
          [35,[15,[5,1120,1132],[6,1142,1155]],[11,[5,1165,1175],[4,1182,1188]]],
          [44,[20,[8,[4,1195,1205],[3,1215,1228]],[7,[3,1240,1252],[3,1262,1275]]],[25,[10,[4,1285,1298],[3,1310,1320]],[9,[4,1332,1345],[3,1358,1375]]]]
        ]
      ]
    ]
  ]
];

/* ---------- helpers ---------- */
const NS = 'http://www.w3.org/2000/svg';
function svgEl(parent, tag, attrs, txt) {
  const e = document.createElementNS(NS, tag);
  for (const k in attrs) e.setAttribute(k, attrs[k]);
  if (txt !== undefined) e.textContent = txt;
  parent.appendChild(e);
  return e;
}
function minus(v) { return String(v).replace('-', '\u2212'); }
function lerp(a, b, t) { return Math.round(a + (b - a) * t); }
const colourStops = [[-2,[0,118,179]],[-1,[157,193,222]],[0,[255,255,255]],[1,[240,143,150]],[2,[220,34,48]]];
function heatColour(v) {
  const z = Math.max(-2, Math.min(2, v));
  for (let i = 0; i < colourStops.length - 1; i++) {
    const a = colourStops[i], b = colourStops[i + 1];
    if (z <= b[0]) {
      const t = (z - a[0]) / (b[0] - a[0]);
      return 'rgb(' + lerp(a[1][0], b[1][0], t) + ',' + lerp(a[1][1], b[1][1], t) + ',' + lerp(a[1][2], b[1][2], t) + ')';
    }
  }
  return 'rgb(220,34,48)';
}

/* ---------- Panel A ---------- */
(function () {
  const g = document.getElementById('panelA');
  const L = 163.6, R = 1112.4, T = 107.1, B = 920.8;
  const xS = v => 708.6 + 201.5 * v;
  const yS = v => 583.4 - 232.1 * v;

  pcaXMinor.forEach(v => {
    const l = svgEl(g, 'line', {x1: xS(v), x2: xS(v), y1: T, y2: B, stroke: '#f1f1f1', 'stroke-width': 1.5});
    
    
  });
  pcaYMinor.forEach(v => {
    const l = svgEl(g, 'line', {x1: L, x2: R, y1: yS(v), y2: yS(v), stroke: '#f1f1f1', 'stroke-width': 1.5});
    
    
  });
  pcaXTicks.forEach(v => {
    const l = svgEl(g, 'line', {x1: xS(v), x2: xS(v), y1: T, y2: B, stroke: '#ebebeb', 'stroke-width': 3});
    
    
    const t = svgEl(g, 'line', {x1: xS(v), x2: xS(v), y1: B, y2: B + 7, stroke: '#333', 'stroke-width': 2});
    
    
    const s = svgEl(g, 'text', {x: xS(v), y: 958, 'font-size': 30, 'text-anchor': 'middle', fill: '#222', class: 'serif'}, minus(v));
    
    
  });
  pcaYTicks.forEach(v => {
    const l = svgEl(g, 'line', {x1: L, x2: R, y1: yS(v), y2: yS(v), stroke: '#ebebeb', 'stroke-width': 3});
    
    
    const t = svgEl(g, 'line', {x1: L - 7, x2: L, y1: yS(v), y2: yS(v), stroke: '#333', 'stroke-width': 2});
    
    
    const s = svgEl(g, 'text', {x: 150, y: yS(v) + 10, 'font-size': 30, 'text-anchor': 'end', fill: '#222', class: 'serif'}, minus(v));
    
    
  });

  const rf = svgEl(g, 'line', {x1: xS(pcaFemaleRibbonX[0]), y1: yS(pcaFemaleRibbonY[0]), x2: xS(pcaFemaleRibbonX[1]), y2: yS(pcaFemaleRibbonY[1]), stroke: '#f8a27c', 'stroke-opacity': 0.2, 'stroke-width': 74, 'stroke-linecap': 'round'});
  
  
  const rm = svgEl(g, 'line', {x1: xS(pcaMaleRibbonX[0]), y1: yS(pcaMaleRibbonY[0]), x2: xS(pcaMaleRibbonX[1]), y2: yS(pcaMaleRibbonY[1]), stroke: '#4eabd3', 'stroke-opacity': 0.2, 'stroke-width': 74, 'stroke-linecap': 'round'});
  
  

  const fOrder = [2, 1, 0];
  const fPts = fOrder.map(i => xS(pcaFemaleX[i]) + ',' + yS(pcaFemaleY[i])).join(' ');
  const lf = svgEl(g, 'polyline', {points: fPts, fill: 'none', stroke: '#f8a27c', 'stroke-width': 3, 'stroke-dasharray': '1 8', 'stroke-linecap': 'round'});
  
  
  const mOrder = [0, 2, 1];
  const mPts = mOrder.map(i => xS(pcaMaleX[i]) + ',' + yS(pcaMaleY[i])).join(' ');
  const lm = svgEl(g, 'polyline', {points: mPts, fill: 'none', stroke: '#4eabd3', 'stroke-width': 3, 'stroke-dasharray': '1 8', 'stroke-linecap': 'round'});
  
  

  const femaleLabelDx = [-24, 23, 24];
  const femaleLabelDy = [29, -10, -10];
  const maleLabelDx = [-24, 24, 23];
  const maleLabelDy = [29, -11, -11];
  pcaFemaleX.forEach((v, i) => {
    const c = svgEl(g, 'circle', {cx: xS(v), cy: yS(pcaFemaleY[i]), r: 15, fill: '#f8a27c'});
    
    
    const t = svgEl(g, 'text', {x: xS(v) + femaleLabelDx[i], y: yS(pcaFemaleY[i]) + femaleLabelDy[i], 'font-size': 24, 'text-anchor': 'middle', fill: '#f8a27c', stroke: '#f8a27c', 'stroke-width': 0.9, class: 'serif'}, pcaFemaleNames[i]);
    
    
  });
  pcaMaleX.forEach((v, i) => {
    const c = svgEl(g, 'circle', {cx: xS(v), cy: yS(pcaMaleY[i]), r: 15, fill: '#4eabd3'});
    
    
    const t = svgEl(g, 'text', {x: xS(v) + maleLabelDx[i], y: yS(pcaMaleY[i]) + maleLabelDy[i], 'font-size': 24, 'text-anchor': 'middle', fill: '#4eabd3', stroke: '#4eabd3', 'stroke-width': 0.9, class: 'serif'}, pcaMaleNames[i]);
    
    
  });
  const f = svgEl(g, 'rect', {x: L, y: T, width: R - L, height: B - T, fill: 'none', stroke: '#333', 'stroke-width': 3.5});
  
  
})();

/* ---------- Volcano panels ---------- */
function drawVolcano(g, p, data) {
  const xS = v => p.x0 + p.kx * v;
  const yS = v => p.y0 - p.ky * v;

  data.nosig.forEach(d => {
    const c = svgEl(g, 'circle', {cx: xS(d[0]), cy: yS(d[1]), r: p.r, fill: '#000', 'fill-opacity': 0.2});
    
    
  });
  data.nosigStrips.forEach(s => {
    s.slice(1).forEach(y => {
      const c = svgEl(g, 'circle', {cx: xS(s[0]), cy: yS(y), r: p.r, fill: '#000', 'fill-opacity': 0.24});
      
      
    });
  });

  const topPts = data.denseX.map((x, i) => xS(x) + ',' + yS(data.denseTop[i]));
  const botPts = data.denseX.slice().reverse().map(x => xS(x) + ',' + yS(p.denseFloor));
  const dense = svgEl(g, 'polygon', {points: topPts.concat(botPts).join(' '), fill: '#000', 'fill-opacity': 0.95, stroke: '#000', 'stroke-width': 1.5, 'stroke-linejoin': 'round'});
  
  
  if (data.armX.length) {
    const armTop = data.armX.map((x, i) => xS(x) + ',' + yS(data.armTop[i]));
    const armBot = data.armX.map((x, i) => xS(x) + ',' + yS(data.armBottom[i])).reverse();
    const arm = svgEl(g, 'polygon', {points: armTop.concat(armBot).join(' '), fill: '#000', 'fill-opacity': 0.95});
    
    
  }

  data.down.forEach(d => {
    const c = svgEl(g, 'circle', {cx: xS(d[0]), cy: yS(d[1]), r: p.r, fill: '#1f93ff'});
    
    
  });
  data.up.forEach(d => {
    const c = svgEl(g, 'circle', {cx: xS(d[0]), cy: yS(d[1]), r: p.r, fill: '#ff6f66'});
    
    
  });

  const vl = svgEl(g, 'line', {x1: xS(-1), x2: xS(-1), y1: p.T + 3, y2: p.B, stroke: '#111', 'stroke-width': 3, 'stroke-dasharray': '10 8'});
  
  
  const vr = svgEl(g, 'line', {x1: xS(1), x2: xS(1), y1: p.T + 3, y2: p.B, stroke: '#111', 'stroke-width': 3, 'stroke-dasharray': '10 8'});
  
  
  const hl = svgEl(g, 'line', {x1: p.L + 10, x2: p.R, y1: yS(1.3), y2: yS(1.3), stroke: '#111', 'stroke-width': 3, 'stroke-dasharray': '10 8'});
  
  

  data.xTicks.forEach(v => {
    const t = svgEl(g, 'line', {x1: xS(v), x2: xS(v), y1: p.B, y2: p.B + 6, stroke: '#111', 'stroke-width': 2});
    
    
    const s = svgEl(g, 'text', {x: xS(v), y: p.xLabelY, 'font-size': 30, 'text-anchor': 'middle', fill: '#111', class: 'sans'}, String(v));
    
    
  });
  data.yTicks.forEach(v => {
    const t = svgEl(g, 'line', {x1: p.L - 6, x2: p.L, y1: yS(v), y2: yS(v), stroke: '#111', 'stroke-width': 2});
    
    
    const s = svgEl(g, 'text', {x: p.yLabelX, y: yS(v) + 11, 'font-size': 30, 'text-anchor': 'end', fill: '#111', class: 'sans'}, String(v));
    
    
  });
  const f = svgEl(g, 'rect', {x: p.L, y: p.T, width: p.R - p.L, height: p.B - p.T, fill: 'none', stroke: '#1a1a1a', 'stroke-width': 3});
  
  

  /* inset bar chart */
  const q = data.inset;
  const yB = v => q.y0 - q.k * v;
  const fr = svgEl(g, 'rect', {x: q.L, y: q.T, width: q.R - q.L, height: q.B - q.T, fill: '#fff', stroke: '#555', 'stroke-width': 2});
  
  
  const colours = ['#f8201c', '#0071a9'];
  data.insetValues.forEach((v, i) => {
    const bx = q.barL + i * q.barW;
    const r = svgEl(g, 'rect', {x: bx, y: yB(v), width: q.barW, height: q.k * v, fill: colours[i]});
    
    
    const t = svgEl(g, 'text', {x: bx + q.barW / 2, y: yB(v) - 3, 'font-size': q.valueFont, 'text-anchor': 'middle', fill: '#333', class: 'sans'}, String(v));
    
    
  });
  data.insetTicks.forEach(v => {
    const tk = svgEl(g, 'line', {x1: q.L - 2, x2: q.L, y1: yB(v), y2: yB(v), stroke: '#333', 'stroke-width': 1});
    
    
    const t = svgEl(g, 'text', {x: q.L - 3, y: yB(v) + 2.5, 'font-size': q.tickFont, 'text-anchor': 'end', fill: '#333', class: 'sans'}, String(v));
    
    
  });
  const xl = svgEl(g, 'text', {x: (q.L + q.R) / 2, y: q.B + 11, 'font-size': q.tickFont, 'text-anchor': 'middle', fill: '#333', class: 'sans'}, 'Female-vs-Male');
  
  
  const ku = svgEl(g, 'rect', {x: q.keyX, y: q.keyY, width: q.keyW, height: q.keyH, fill: colours[0]});
  
  
  const kd = svgEl(g, 'rect', {x: q.keyX, y: q.keyY + q.keyH + 1, width: q.keyW, height: q.keyH, fill: colours[1]});
  
  
  const tu = svgEl(g, 'text', {x: q.keyX + q.keyW + 5, y: q.keyY + q.keyH - 2, 'font-size': q.legendFont, fill: '#333', class: 'sans'}, 'UP');
  
  
  const td = svgEl(g, 'text', {x: q.keyX + q.keyW + 5, y: q.keyY + 2 * q.keyH - 1, 'font-size': q.legendFont, fill: '#333', class: 'sans'}, 'DOWN');
  
  
}

drawVolcano(document.getElementById('panelB'),
  {x0: 1877.4, kx: 18.3, y0: 918, ky: 40.21, L: 1421.3, R: 2333.3, T: 87, B: 956.3, r: 4.2, denseFloor: -0.1, xLabelY: 990, yLabelX: 1409},
  {nosig: bNosig, nosigStrips: [], denseX: bDenseX, denseTop: bDenseTop, armX: [], armTop: [], armBottom: [], down: bDown, up: bUp, xTicks: bXTicks, yTicks: bYTicks,
   insetValues: bInsetValues, insetTicks: bInsetTicks,
   inset: {L: 1934, R: 2254.7, T: 103.3, B: 364.7, y0: 353.3, k: 1.2115, barL: 1987.7, barW: 106.8, valueFont: 8.8, tickFont: 7.5, legendFont: 9, keyX: 2268.3, keyY: 227.7, keyW: 11.5, keyH: 12.3}});
drawVolcano(document.getElementById('panelD'),
  {x0: 1862.6, kx: 22.62, y0: 2131.6, ky: 71.6, L: 1390.2, R: 2334.9, T: 1271.4, B: 2171.4, r: 4.2, denseFloor: -0.05, xLabelY: 2206, yLabelX: 1377},
  {nosig: [], nosigStrips: dNosigStrips, denseX: dDenseX, denseTop: dDenseTop, armX: dArmX, armTop: dArmTop, armBottom: dArmBottom, down: dDown, up: dUp, xTicks: dXTicks, yTicks: dYTicks,
   insetValues: dInsetValues, insetTicks: dInsetTicks,
   inset: {L: 1467.3, R: 1743.3, T: 1289.3, B: 1515.3, y0: 1505, k: 0.775, barL: 1512.7, barW: 92.3, valueFont: 8, tickFont: 6.5, legendFont: 7.8, keyX: 1754.3, keyY: 1396.7, keyW: 10, keyH: 10.6}});

/* ---------- Heatmaps ---------- */
function drawHeatmap(g, p, rows, cols, tree, origin) {
  const total = rows.reduce((a, b) => a + b, 0);
  const yS = r => p.T + (r / total) * (p.B - p.T);
  let acc = 0;
  rows.forEach((n, i) => {
    cols.forEach((col, j) => {
      const r = svgEl(g, 'rect', {x: p.edges[j], y: yS(acc), width: p.edges[j + 1] - p.edges[j], height: yS(acc + n) - yS(acc) + 0.4, fill: heatColour(col[i]), 'shape-rendering': 'crispEdges'});
      
      
    });
    acc += n;
  });
  const st = svgEl(g, 'rect', {x: p.edges[0], y: p.T, width: p.edges[6] - p.edges[0], height: p.B - p.T, fill: 'url(#stripes)'});
  
  

  heatColumns.forEach((name, j) => {
    const cx = (p.edges[j] + p.edges[j + 1]) / 2 - 7.5;
    const t = svgEl(g, 'text', {x: cx, y: p.B + 8, transform: 'rotate(90 ' + cx + ' ' + (p.B + 8) + ')', 'font-size': 21, fill: '#111', class: 'sans'}, name);
    
    
  });

  const cb = svgEl(g, 'rect', {x: p.barL, y: p.barT, width: p.barW, height: p.barH, fill: 'url(#cbar)'});
  
  
  heatLegendTicks.forEach(v => {
    const y = p.tick2 + (2 - v) * (p.tickN2 - p.tick2) / 4;
    const t = svgEl(g, 'text', {x: p.barL + p.barW + 9, y: y + 8, 'font-size': 23, fill: '#111', class: 'sans'}, minus(v));
    
    
  });

  let d = '';
  const hx = h => p.edges[0] - h * 0.797;
  function walk(node) {
    if (typeof node === 'number') return {x: p.edges[0], y: yS(node - origin)};
    const a = walk(node[1]);
    const b = walk(node[2]);
    const x = hx(node[0]);
    d += 'M' + a.x + ' ' + a.y + 'H' + x + 'V' + b.y + 'H' + b.x;
    return {x: x, y: (a.y + b.y) / 2};
  }
  walk(tree);
  const den = svgEl(g, 'path', {d: d, fill: 'none', stroke: '#1a1a1a', 'stroke-width': 2});
  
  
}

drawHeatmap(document.getElementById('panelC'),
  {edges: [219.2, 372.3, 525.3, 677.6, 830.7, 983.7, 1136], T: 1209.1, B: 2189.7, barL: 1148, barT: 1209, barW: 21.5, barH: 331, tick2: 1213, tickN2: 1536},
  cBlockRows, [cFemale1, cFemale2, cFemale3, cMale1, cMale2, cMale3], cTree, cTreeOrigin);
drawHeatmap(document.getElementById('panelE'),
  {edges: [912, 1065, 1216.5, 1368, 1520, 1671.7, 1824], T: 2455, B: 3431, barL: 1835, barT: 2455, barW: 21.7, barH: 329.4, tick2: 2459, tickN2: 2781},
  eBlockRows, [eFemale1, eFemale2, eFemale3, eMale1, eMale2, eMale3], eTree, eTreeOrigin);
</script>
</body>
</html>
